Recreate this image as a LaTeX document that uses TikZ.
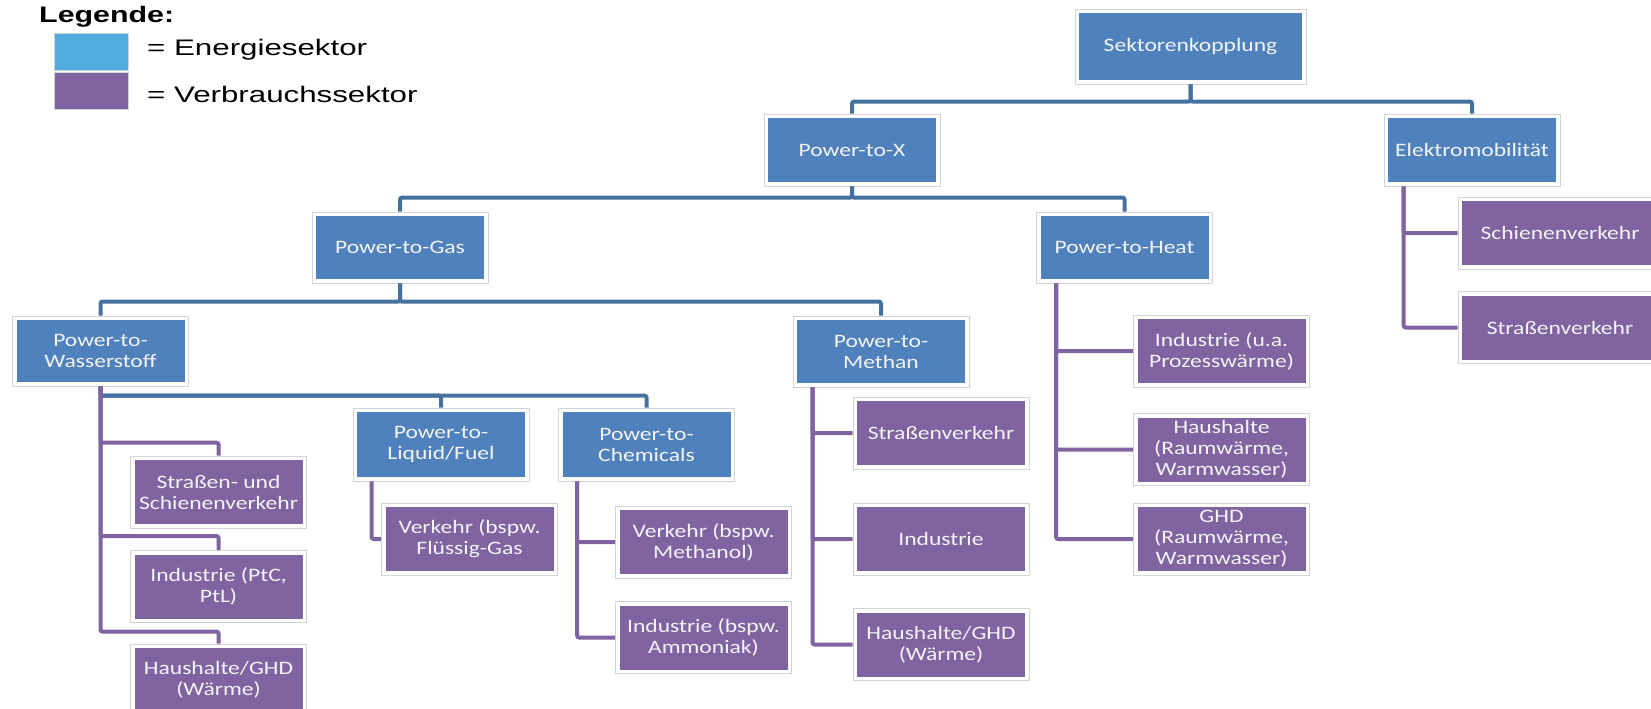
\documentclass[tikz,border=0pt]{standalone}
\usepackage{fontspec}
\newfontfamily\boxfont[FakeStretch=1.24]{Carlito}
\newfontfamily\legfont[FakeStretch=1.39]{Liberation Sans}
\newfontfamily\legboldfont[FakeStretch=1.35]{Liberation Sans}
\definecolor{nodeblue}{HTML}{4F81BD}
\definecolor{nodepurple}{HTML}{8064A2}
\definecolor{lineblue}{HTML}{44719E}
\definecolor{linepurple}{HTML}{8064A2}
\definecolor{legblue}{HTML}{52ADDF}
\definecolor{framegray}{HTML}{D4D4D4}
\definecolor{textwhite}{HTML}{F4F4F4}
\begin{document}
\begin{tikzpicture}[x=1pt,y=-1pt,
  box/.style={draw=framegray, line width=0.8pt, fill=white, inner sep=0pt,
    minimum width=176pt, minimum height=72pt, align=center, text=textwhite,
    font=\boxfont\fontsize{19}{21}\selectfont,
    path picture={\fill[#1] ([shift={(4pt,4pt)}]path picture bounding box.south west)
      rectangle ([shift={(-4pt,-4pt)}]path picture bounding box.north east);}},
  ebox/.style={box=nodeblue},
  vbox/.style={box=nodepurple},
  bline/.style={draw=lineblue, line width=4pt, rounded corners=2pt},
  pline/.style={draw=linepurple, line width=4pt, rounded corners=2pt},
  legsq/.style={draw=framegray, line width=0.8pt, minimum width=74pt, minimum height=37pt, inner sep=0pt},
  legtext/.style={anchor=base west, inner sep=0pt, font=\legfont\fontsize{22.5}{26}\selectfont}
]
\clip (0,0) rectangle (1651,709);
\useasboundingbox (0,0) rectangle (1651,709);

% legend
\node[legtext, font=\legboldfont\bfseries\fontsize{22.5}{26}\selectfont] (leg) at (39,23) {Legende:};
\node[legsq, fill=legblue] (lsqb) at (91,51.5) {};
\node[legsq, fill=nodepurple] (lsqp) at (91,91) {};
\node[legtext] (ltb) at (147,56) {= Energiesektor};
\node[legtext] (ltp) at (147,102) {= Verbrauchssektor};

% energy nodes
\node[ebox, minimum width=231pt, minimum height=75pt] (sek) at (1190.5,46.5) {Sektorenkopplung};
\node[ebox] (ptx) at (852,150) {Power-to-X};
\node[ebox] (elek) at (1472,150) {Elektromobilität};
\node[ebox, minimum height=71pt] (gas) at (400,247.5) {Power-to-Gas};
\node[ebox, minimum height=71pt] (heat) at (1124.5,247.5) {Power-to-Heat};
\node[ebox, minimum height=70pt] (wass) at (100.5,351) {Power-to-\\Wasserstoff};
\node[ebox, minimum height=71pt] (meth) at (881,351.5) {Power-to-\\Methan};
\node[ebox, minimum height=73pt] (liq) at (441,444.5) {Power-to-\\Liquid/Fuel};
\node[ebox, minimum height=73pt] (chem) at (646.5,444.5) {Power-to-\\Chemicals};

% consumer nodes
\node[vbox] (wstr) at (218.5,492) {Straßen- und\\Schienenverkehr};
\node[vbox] (wind) at (218.5,586.5) {Industrie (PtC,\\PtL)};
\node[vbox] (whaus) at (218.5,680) {Haushalte/GHD\\(Wärme)};
\node[vbox] (lverk) at (469.5,539) {Verkehr (bspw.\\Flüssig-Gas};
\node[vbox] (cverk) at (703.5,542) {Verkehr (bspw.\\Methanol)};
\node[vbox] (cind) at (703.5,637.5) {Industrie (bspw.\\Ammoniak)};
\node[vbox] (mstr) at (941,433) {Straßenverkehr};
\node[vbox] (mind) at (941,539) {Industrie};
\node[vbox] (mhaus) at (941,644.5) {Haushalte/GHD\\(Wärme)};
\node[vbox] (hind) at (1221.5,351) {Industrie (u.a.\\Prozesswärme)};
\node[vbox] (hhaus) at (1221.5,449.5) {Haushalte\\(Raumwärme,\\Warmwasser)};
\node[vbox] (hghd) at (1221.5,539) {GHD\\(Raumwärme,\\Warmwasser)};
\node[vbox, minimum width=204pt] (eschien) at (1560,233) {Schienenverkehr};
\node[vbox, minimum width=204pt] (estr) at (1560,327.5) {Straßenverkehr};

% blue connectors
\draw[bline] (sek.south) |- ([yshift=12pt]ptx.north) -- (ptx.north);
\draw[bline] (sek.south) |- ([yshift=12pt]elek.north) -- (elek.north);
\draw[bline] (ptx.south) |- ([yshift=14pt]gas.north) -- (gas.north);
\draw[bline] (ptx.south) |- ([yshift=14pt]heat.north) -- (heat.north);
\draw[bline] (gas.south) |- ([yshift=14pt]wass.north) -- (wass.north);
\draw[bline] (gas.south) |- ([yshift=14pt]meth.north) -- (meth.north);
\draw[bline] (wass.south) |- ([yshift=12pt]liq.north) -- (liq.north);
\draw[bline] (wass.south) |- ([yshift=12pt]chem.north) -- (chem.north);

% purple connectors
\draw[pline] (wass.south) |- ([yshift=13pt]wstr.north) -- (wstr.north);
\draw[pline] (wass.south) |- ([yshift=14pt]wind.north) -- (wind.north);
\draw[pline] (wass.south) |- ([yshift=12pt]whaus.north) -- (whaus.north);
\draw[pline] ([xshift=19pt]liq.south west) |- (lverk.west);
\draw[pline] ([xshift=19pt]chem.south west) |- (cverk.west);
\draw[pline] ([xshift=19pt]chem.south west) |- (cind.west);
\draw[pline] ([xshift=20pt]meth.south west) |- (mstr.west);
\draw[pline] ([xshift=20pt]meth.south west) |- (mind.west);
\draw[pline] ([xshift=20pt]meth.south west) |- (mhaus.west);
\draw[pline] ([xshift=20pt]heat.south west) |- (hind.west);
\draw[pline] ([xshift=20pt]heat.south west) |- (hhaus.west);
\draw[pline] ([xshift=20pt]heat.south west) |- (hghd.west);
\draw[pline] ([xshift=20pt]elek.south west) |- (eschien.west);
\draw[pline] ([xshift=20pt]elek.south west) |- (estr.west);
\end{tikzpicture}
\end{document}
